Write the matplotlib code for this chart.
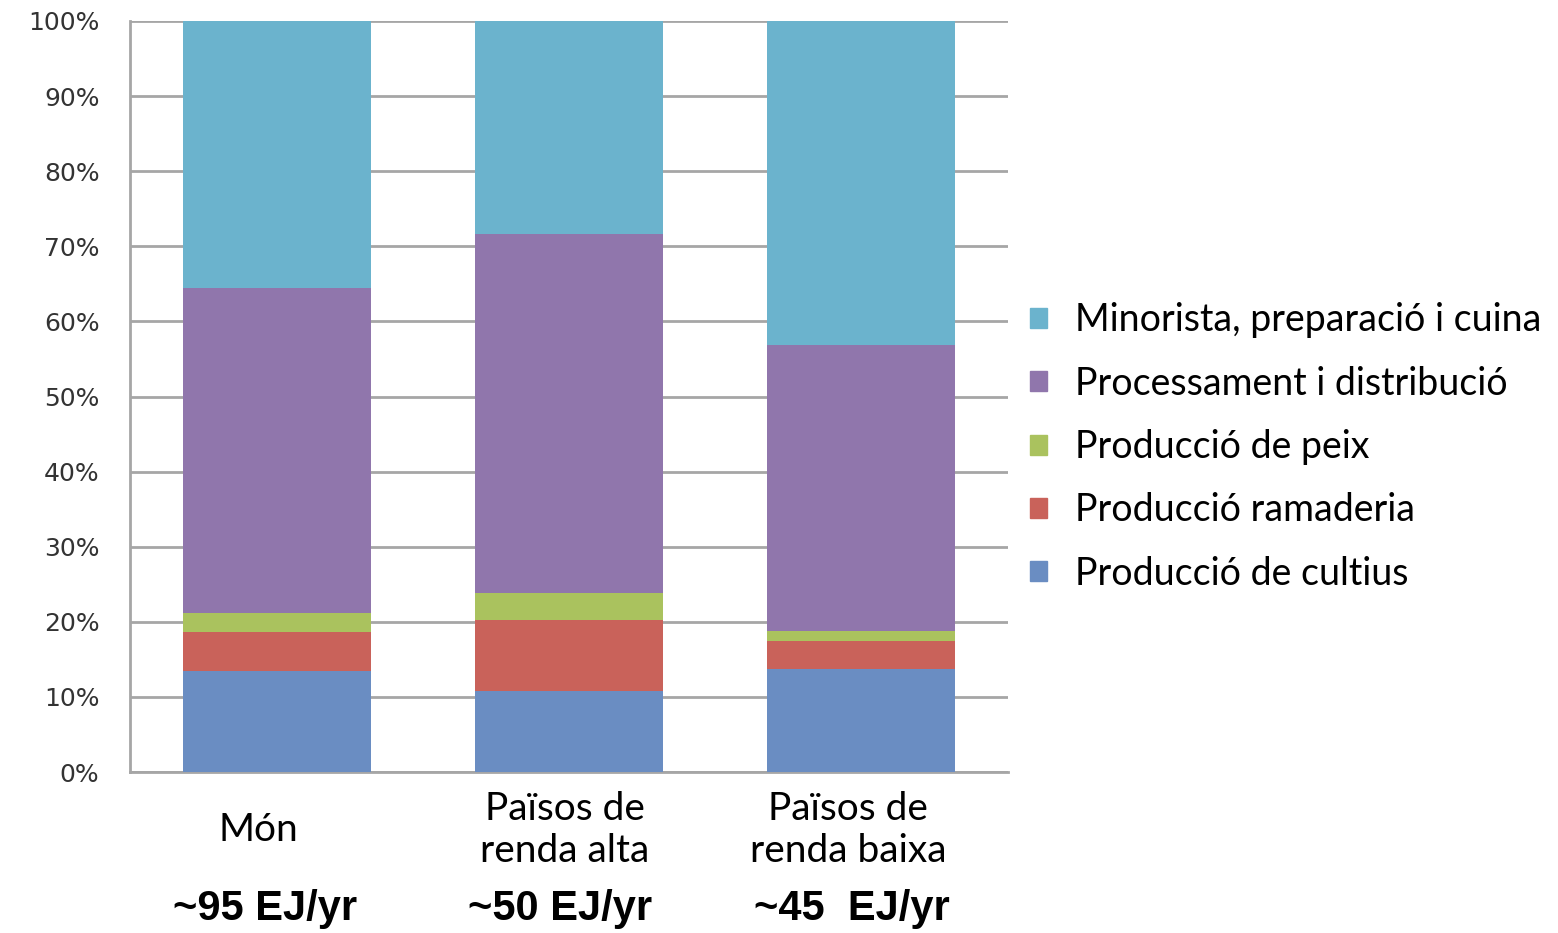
import matplotlib

matplotlib.use("Agg")
import matplotlib.pyplot as plt
import numpy as np
from matplotlib.patches import Patch

# stacked shares (%), bottom to top
categories = ["Món", "Països de\nrenda alta", "Països de\nrenda baixa"]
energy_labels = ["~95 EJ/yr", "~50 EJ/yr", "~45  EJ/yr"]
series_names = [
    "Producció de cultius",
    "Producció ramaderia",
    "Producció de peix",
    "Processament i distribució",
    "Minorista, preparació i cuina",
]
cultius = [13.4, 10.8, 13.7]
ramaderia = [5.3, 9.4, 3.7]
peix = [2.5, 3.6, 1.4]
processament = [43.2, 47.8, 38.0]
minorista = [35.6, 28.4, 43.2]
colors = ["#6A8DC2", "#C9625A", "#AAC25E", "#9076AC", "#6BB3CD"]

series = [cultius, ramaderia, peix, processament, minorista]

fig = plt.figure(figsize=(15.58, 9.33), dpi=100)
ax = fig.add_axes([130 / 1558, 161 / 933, 878 / 1558, 751 / 933])

x = np.arange(len(categories))
bottom = np.zeros(len(categories))
for vals, col, name in zip(series, colors, series_names):
    ax.bar(x, vals, width=0.645, bottom=bottom, color=col, label=name,
           zorder=3)
    bottom += np.array(vals)

ax.set_xlim(-0.503, 2.503)
ax.set_ylim(0, 100)
ax.set_yticks(np.arange(0, 101, 10))
ax.set_yticklabels([f"{v}%" for v in range(0, 101, 10)],
                   fontsize=18, color="#333333", family="DejaVu Sans")
ax.tick_params(axis="y", length=0, pad=22)
ax.set_xticks([])
ax.grid(axis="y", color="#a6a6a6", lw=2, zorder=0)
for s in ("top", "right"):
    ax.spines[s].set_visible(False)
for s in ("left", "bottom"):
    ax.spines[s].set_color("#a6a6a6")
    ax.spines[s].set_linewidth(2)

cat_dx = [-0.065, -0.014, -0.045]
for i, (lab, dx) in enumerate(zip(categories, cat_dx)):
    ax.text(i + dx, -7.7, lab, ha="center", va="center", fontsize=28,
            family="Lato", linespacing=1.2, clip_on=False)
en_dx = [-0.04, -0.03, -0.03]
for i, (lab, dx) in enumerate(zip(energy_labels, en_dx)):
    ax.text(i + dx, -18.2, lab, ha="center", va="center", fontsize=30,
            family="Liberation Sans", fontweight="bold", clip_on=False)

handles = [Patch(color=c) for c in colors][::-1]
fig.legend(handles, series_names[::-1], loc="center left",
           bbox_to_anchor=(1030 / 1558, 1 - 447 / 933), frameon=False,
           prop={"family": "Lato", "size": 27}, borderpad=0,
           borderaxespad=0, handlelength=0.45, handleheight=0.45,
           handletextpad=0.75, labelspacing=0.73)

fig.savefig("out.png", dpi=100)
